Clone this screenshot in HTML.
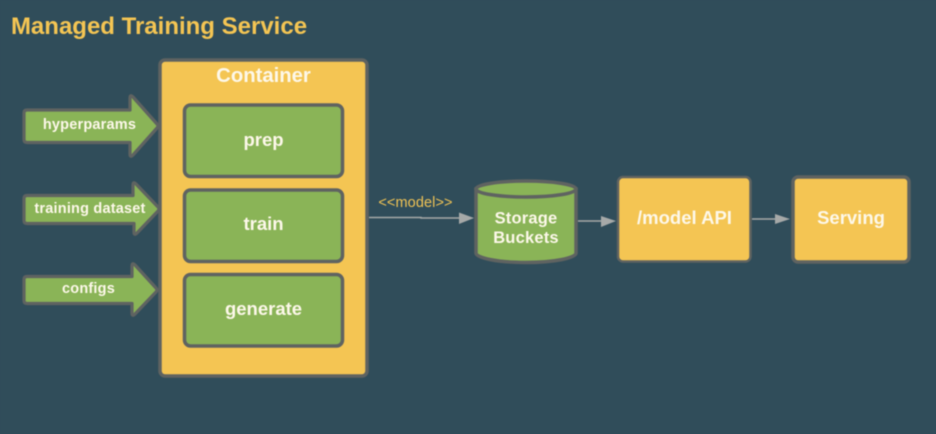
<!DOCTYPE html>
<html>
<head>
<meta charset="utf-8">
<style>
html,body{margin:0;padding:0;background:#304d5a;}
svg{display:block;filter:blur(0.4px);}
text{font-family:"Liberation Sans",sans-serif;font-weight:bold;fill:#fdf8ea;text-anchor:middle;}
</style>
</head>
<body>
<svg width="936" height="434" viewBox="0 0 936 434" xmlns="http://www.w3.org/2000/svg">
<rect width="936" height="434" fill="#304d5a"/>
<text x="159" y="34" font-size="24" style="fill:#f4c553">Managed Training Service</text>

<g fill="#8ab457" stroke="#5f6361" stroke-width="3.200" stroke-linejoin="round">
<path d="M27 110H130V98Q130 94 133 97L157 124Q159 126 157 128L133 155Q130 158 130 154V142.500H27Q24 142.500 24 139.500V113Q24 110 27 110Z"/>
<path d="M27 195.500H133V185Q133 181 136 184L158 207Q160 209 158 211L137 233Q134 236 134 232V223.500H27Q24 223.500 24 220.500V198.500Q24 195.500 27 195.500Z"/>
<path d="M27 276.500H132V266Q132 262 135 265L156 288Q158 290 156 292L135 314Q132 317 132 313V303.500H27Q24 303.500 24 300.500V279.500Q24 276.500 27 276.500Z"/>
</g>
<text x="89.500" y="129" font-size="14.500" letter-spacing="0.2">hyperparams</text>
<text x="90" y="213" font-size="14.500" letter-spacing="0.2">training dataset</text>
<text x="88.500" y="293" font-size="14.500" letter-spacing="0.2">configs</text>

<rect x="160" y="60" width="207" height="316" rx="5" fill="#f4c553" stroke="#5f6361" stroke-width="3.500"/>
<text x="263.500" y="82" font-size="20.300">Container</text>
<g fill="#8ab457" stroke="#5f6361" stroke-width="3.500">
<rect x="184.500" y="105" width="158" height="71.500" rx="6"/>
<rect x="184.500" y="190" width="158" height="71.500" rx="6"/>
<rect x="184.500" y="274.500" width="158" height="71.500" rx="6"/>
</g>
<text x="263.500" y="146" font-size="18.500">prep</text>
<text x="263.500" y="230" font-size="18.500">train</text>
<text x="263.500" y="315" font-size="18.500">generate</text>

<text x="415.500" y="207" font-size="14.500" style="fill:#f0c355;font-weight:normal" letter-spacing="0.1">&lt;&lt;model&gt;&gt;</text>
<path d="M369 217.500H421L421 218H460" fill="none" stroke="#a6a9a8" stroke-width="1.500"/>
<path d="M459 212.500L474 218L459 224Z" fill="#a6a9a8"/>

<path d="M476 189V253C476 258 498 262.500 526 262.500C554 262.500 576 258 576 253V189Z" fill="#8ab457" stroke="#5f6361" stroke-width="3.500"/>
<ellipse cx="526" cy="189" rx="50" ry="8" fill="#8ab457" stroke="#5f6361" stroke-width="3.500"/>
<text x="526" y="223.500" font-size="16.500" letter-spacing="0.2">Storage</text>
<text x="526" y="243" font-size="16.500" letter-spacing="0.2">Buckets</text>

<path d="M578 221H602" fill="none" stroke="#a6a9a8" stroke-width="1.500"/>
<path d="M601 216L616 221L601 227Z" fill="#a6a9a8"/>

<rect x="618" y="177" width="132.500" height="84.500" rx="5" fill="#f4c553" stroke="#5f6361" stroke-width="2.500"/>
<text x="684.500" y="224" font-size="18.500">/model API</text>

<path d="M752 219H777" fill="none" stroke="#a6a9a8" stroke-width="1.500"/>
<path d="M775 214L790 219L775 224Z" fill="#a6a9a8"/>

<rect x="793" y="177" width="116" height="85" rx="5" fill="#f4c553" stroke="#5f6361" stroke-width="3.500"/>
<text x="851" y="224" font-size="18.500">Serving</text>
</svg>
</body>
</html>
